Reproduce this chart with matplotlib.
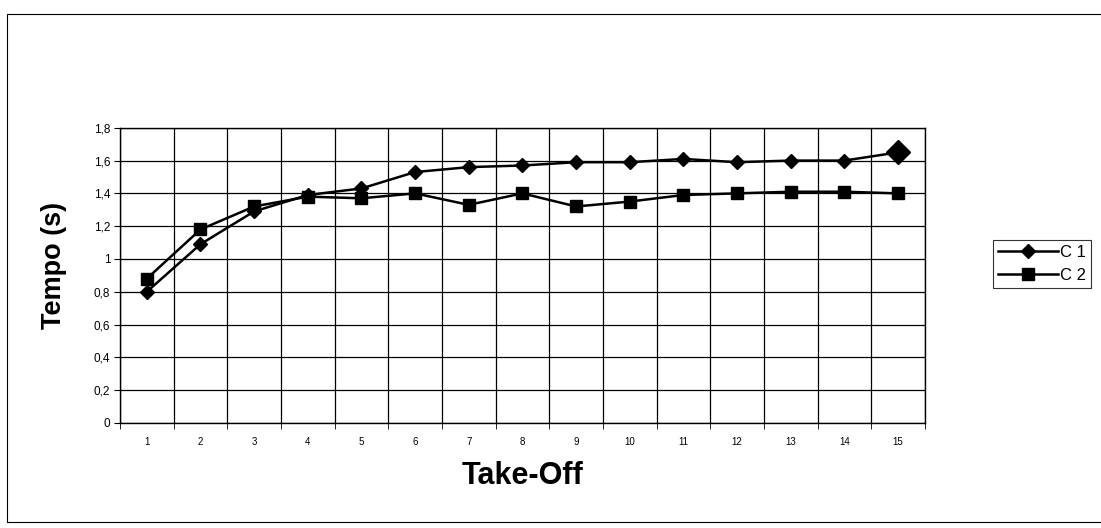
import matplotlib.pyplot as plt
from matplotlib.ticker import FixedLocator, FuncFormatter
from matplotlib.patches import Rectangle

plt.rcParams['font.family'] = ['Liberation Sans', 'DejaVu Sans']

# take-off number and time (s) for the two series
take_off = list(range(1, 16))
c1 = [0.80, 1.09, 1.29, 1.39, 1.43, 1.53, 1.56, 1.57, 1.59, 1.59, 1.61, 1.59, 1.60, 1.60, 1.65]
c2 = [0.88, 1.18, 1.32, 1.38, 1.37, 1.40, 1.33, 1.40, 1.32, 1.35, 1.39, 1.40, 1.41, 1.41, 1.40]
y_ticks = [0, 0.2, 0.4, 0.6, 0.8, 1.0, 1.2, 1.4, 1.6, 1.8]

fig = plt.figure(figsize=(11.01, 5.28), dpi=100)
fig.patch.set_facecolor('white')

# frame round the whole chart
fig.add_artist(Rectangle((0.006, 0.011), 1.2, 0.963, transform=fig.transFigure,
                         fill=False, edgecolor='black', linewidth=0.8))

ax = fig.add_axes([0.109, 0.199, 0.731, 0.559])

ax.plot(take_off, c1, color='black', linewidth=1.8, marker='D', markersize=7,
        label='C 1', zorder=3)
ax.plot(take_off, c2, color='black', linewidth=1.8, marker='s', markersize=8,
        label='C 2', zorder=3)
# last point of C 1 drawn bigger
ax.plot(take_off[-1:], c1[-1:], color='black', marker='D', markersize=12,
        linestyle='none', zorder=4)

ax.set_xlim(0.5, 15.5)
ax.set_ylim(0, 1.8)

# category labels centred, ticks and grid on the boundaries
ax.set_xticks(take_off)
ax.set_xticklabels([str(t) for t in take_off], fontsize=7)
ax.tick_params(axis='x', which='major', length=0, pad=10)
ax.xaxis.set_minor_locator(FixedLocator([x + 0.5 for x in range(0, 16)]))
ax.tick_params(axis='x', which='minor', length=4, direction='out', color='black')
ax.grid(True, axis='x', which='minor', color='black', linewidth=0.9)

ax.yaxis.set_major_locator(FixedLocator(y_ticks))
ax.yaxis.set_major_formatter(FuncFormatter(
    lambda v, p: ('%g' % round(v, 1)).replace('.', ',')))
ax.tick_params(axis='y', length=4, direction='out', labelsize=8.5, pad=3)
ax.grid(True, axis='y', which='major', color='black', linewidth=0.9)

for side in ax.spines.values():
    side.set_linewidth(1.0)
    side.set_color('black')

ax.set_ylabel('Tempo (s)', fontsize=19.5, fontweight='bold')
ax.yaxis.set_label_coords(-0.066, 0.535)
ax.set_xlabel('Take-Off', fontsize=22, fontweight='bold', labelpad=10)

leg = fig.legend(loc='upper left', bbox_to_anchor=(0.902, 0.545), fontsize=12,
                 frameon=True, fancybox=False, edgecolor='black',
                 handlelength=3.6, handletextpad=0.1, borderpad=0.3,
                 labelspacing=0.45, borderaxespad=0)
leg.get_frame().set_linewidth(0.8)

fig.savefig('out.png', dpi=100, facecolor='white')
